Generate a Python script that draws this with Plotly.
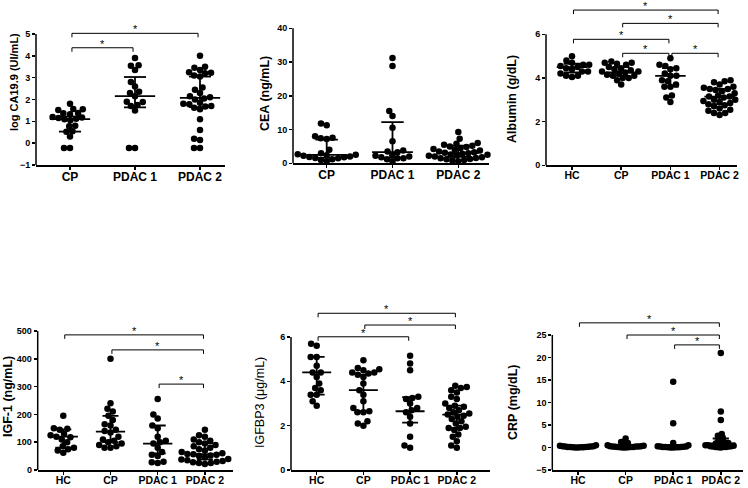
import math
import plotly.graph_objects as go

W, H = 748, 488

# ---------------- data ----------------
groups3 = ["CP", "PDAC 1", "PDAC 2"]
groups4 = ["HC", "CP", "PDAC 1", "PDAC 2"]

# log CA19.9 (UI/mL)
ca199_cp = [1.80, 1.56, 1.55, 1.52, 1.38, 1.37, 1.33, 1.20, 1.17, 1.15, 1.12, 1.10, 1.05, 0.80, 0.78, 0.55, 0.52, 0.30, -0.22, -0.22]
ca199_pdac1 = [3.90, 3.57, 3.55, 3.35, 2.80, 2.60, 2.35, 2.30, 2.15, 1.90, 1.88, 1.75, 1.70, 1.50, -0.22, -0.22]
ca199_pdac2 = [4.00, 3.50, 3.45, 3.35, 3.25, 3.22, 3.20, 3.10, 3.05, 2.55, 2.45, 2.30, 2.15, 2.10, 2.05, 2.00, 1.85,
               1.80, 1.78, 1.70, 1.68, 1.62, 1.55, 1.10, 0.60, 0.20, 0.15, -0.22, -0.22]
ca199_median = [1.10, 2.15, 2.07]
ca199_q1 = [0.53, 1.64, 1.65]
ca199_q3 = [1.22, 3.03, 3.05]
ca199_ticks = [-1, 0, 1, 2, 3, 4, 5]

# CEA (ng/mL)
cea_cp = [11.8, 11.3, 8.0, 7.6, 7.4, 7.2, 4.0, 3.0, 2.7, 2.5, 2.4, 2.2, 2.0, 1.9, 1.8, 1.6, 1.5, 1.2, 1.0, 0.5]
cea_pdac1 = [31.2, 28.8, 15.5, 14.0, 10.5, 6.5, 3.8, 3.5, 3.3, 2.4, 2.2, 2.0, 1.8, 1.5, 1.5, 1.2, 0.5]
cea_pdac2 = [9.3, 7.3, 6.0, 5.8, 5.5, 5.2, 5.0, 4.8, 4.5, 4.2, 4.0, 3.8, 3.5, 3.3, 3.1, 3.0, 2.8, 2.6, 2.5, 2.3,
             2.2, 2.0, 1.8, 1.6, 1.5, 1.3, 1.2, 1.0, 0.8, 0.6]
cea_median = [2.5, 3.3, 3.0]
cea_q1 = [1.6, 1.6, 1.9]
cea_q3 = [7.0, 12.2, 5.2]
cea_ticks = [0, 10, 20, 30, 40]

# Albumin (g/dL)
alb_hc = [5.0, 4.8, 4.7, 4.6, 4.6, 4.55, 4.5, 4.45, 4.4, 4.3, 4.3, 4.2, 4.1, 4.1, 4.05]
alb_cp = [4.75, 4.7, 4.7, 4.65, 4.6, 4.5, 4.45, 4.4, 4.35, 4.3, 4.3, 4.25, 4.2, 4.15, 4.1, 4.1, 4.0, 4.0, 3.9, 3.7]
alb_pdac1 = [4.9, 4.6, 4.55, 4.45, 4.4, 4.2, 4.1, 4.1, 3.9, 3.85, 3.7, 3.6, 3.6, 3.2, 3.1, 2.9]
alb_pdac2 = [3.9, 3.85, 3.8, 3.7, 3.7, 3.6, 3.55, 3.5, 3.5, 3.45, 3.4, 3.3, 3.2, 3.15, 3.15, 3.1, 3.0, 3.0, 2.95,
             2.9, 2.85, 2.8, 2.75, 2.7, 2.6, 2.55, 2.5, 2.4, 2.4, 2.3]
alb_median = [4.5, 4.25, 4.1, 3.15]
alb_q1 = [4.25, 4.1, 3.6, 2.8]
alb_q3 = [4.65, 4.5, 4.45, 3.5]
alb_ticks = [0, 2, 4, 6]

# IGF-1 (ng/mL)
igf_hc = [195, 150, 148, 145, 130, 125, 120, 118, 110, 100, 85, 80, 75, 70, 62]
igf_cp = [400, 240, 220, 210, 195, 180, 165, 160, 145, 140, 135, 120, 110, 105, 100, 95, 90, 85, 80, 80]
igf_pdac1 = [255, 200, 185, 160, 150, 120, 105, 100, 95, 80, 65, 55, 50, 30, 28, 25]
igf_pdac2 = [145, 125, 120, 110, 105, 100, 95, 90, 85, 80, 75, 70, 65, 60, 58, 57, 55, 52, 50, 45, 42, 40, 38, 35,
             32, 30, 28, 25, 25, 22]
igf_median = [120, 138, 95, 57]
igf_q1 = [80, 100, 60, 38]
igf_q3 = [146, 195, 160, 96]
igf_ticks = [0, 100, 200, 300, 400, 500]

# IGFBP3 (ug/mL)
igfbp_hc = [5.7, 5.6, 5.1, 5.1, 4.7, 4.4, 4.4, 4.2, 3.9, 3.7, 3.6, 3.4, 3.4, 3.1, 2.9]
igfbp_cp = [4.95, 4.6, 4.55, 4.5, 4.4, 4.4, 4.35, 4.3, 4.2, 3.9, 3.6, 3.4, 3.1, 2.8, 2.65, 2.6, 2.6, 2.2, 2.1, 2.0]
igfbp_pdac1 = [5.15, 4.8, 4.5, 3.3, 3.25, 3.2, 3.0, 2.8, 2.7, 2.6, 2.4, 2.1, 1.5, 1.1, 1.0]
igfbp_pdac2 = [3.8, 3.75, 3.7, 3.6, 3.5, 3.3, 3.2, 3.0, 2.9, 2.85, 2.8, 2.7, 2.6, 2.55, 2.5, 2.45, 2.4, 2.3, 2.2,
               2.1, 1.95, 1.9, 1.9, 1.8, 1.6, 1.5, 1.3, 1.1, 1.0]
igfbp_median = [4.4, 3.6, 2.65, 2.5]
igfbp_q1 = [3.4, 2.65, 2.14, 1.9]
igfbp_q3 = [5.1, 4.3, 3.29, 2.9]
igfbp_ticks = [0, 2, 4, 6]

# CRP (mg/dL)
crp_hc = [0.5, 0.4, 0.3, 0.3, 0.2, 0.2, 0.15, 0.1, 0.1, 0.1, 0.05, 0.05, 0.05, 0.0, 0.0]
crp_cp = [2.0, 1.2, 1.0, 0.8, 0.7, 0.5, 0.4, 0.3, 0.3, 0.2, 0.2, 0.2, 0.15, 0.1, 0.1, 0.1, 0.05, 0.05, 0.0, 0.0]
crp_pdac1 = [14.6, 5.4, 1.0, 0.5, 0.3, 0.2, 0.2, 0.15, 0.1, 0.1, 0.1, 0.05, 0.05, 0.05, 0.0, 0.0]
crp_pdac2 = [21.0, 8.0, 6.1, 3.0, 2.6, 2.5, 2.2, 2.0, 1.8, 1.5, 1.3, 1.2, 1.0, 1.0, 0.9, 0.8, 0.7, 0.6, 0.5, 0.5,
             0.4, 0.3, 0.3, 0.2, 0.2, 0.1, 0.1, 0.1, 0.05, 0.0]
crp_median = [0.1, 0.2, 0.15, 0.9]
crp_q1 = [0.05, 0.08, 0.05, 0.3]
crp_q3 = [0.2, 0.6, 0.5, 2.0]
crp_ticks = [-5, 0, 5, 10, 15, 20, 25]

# ---------------- layout of panels ----------------
FONT = "Liberation Sans, Arial, sans-serif"

panels = [
    dict(title="log CA19.9 (UI/mL)", tsize=11, tweight="bold", cats=groups3,
         data=[ca199_cp, ca199_pdac1, ca199_pdac2], med=ca199_median, q1=ca199_q1, q3=ca199_q3,
         ticks=ca199_ticks, left=36, right=225, cat0=70, step=65, ybot=165, ytoppx=34,
         ymin=-1, ytop=5, ymax=5.6, tx=14, ty=82, catsize=12, swd=6,
         brackets=[(0, 2, 5.03), (0, 1, 4.37)]),
    dict(title="CEA (ng/mL)", tsize=12.5, tweight="bold", cats=groups3,
         data=[cea_cp, cea_pdac1, cea_pdac2], med=cea_median, q1=cea_q1, q3=cea_q3,
         ticks=cea_ticks, left=293, right=489, cat0=326.7, step=65.8, ybot=163.3, ytoppx=28.3,
         ymin=0, ytop=40, ymax=40, tx=265, ty=94, catsize=12, swd=6,
         brackets=[]),
    dict(title="Albumin (g/dL)", tsize=12.5, tweight="bold", cats=groups4,
         data=[alb_hc, alb_cp, alb_pdac1, alb_pdac2], med=alb_median, q1=alb_q1, q3=alb_q3,
         ticks=alb_ticks, left=546, right=737, cat0=572, step=49.2, ybot=165.3, ytoppx=34.3,
         ymin=0, ytop=6, ymax=7.5, tx=512, ty=99, catsize=10.5, swd=6,
         brackets=[(0, 3, 7.11), (1, 3, 6.50), (0, 2, 5.77), (1, 2, 5.13), (2, 3, 5.13)]),
    dict(title="IGF-1 (ng/mL)", tsize=12.5, tweight="bold", cats=groups4,
         data=[igf_hc, igf_cp, igf_pdac1, igf_pdac2], med=igf_median, q1=igf_q1, q3=igf_q3,
         ticks=igf_ticks, left=37.7, right=233, cat0=63.3, step=47.2, ybot=470, ytoppx=331,
         ymin=0, ytop=500, ymax=530, tx=8, ty=397, catsize=10.5, swd=6,
         brackets=[(0, 3, 486), (1, 3, 432), (2, 3, 309)]),
    dict(title="IGFBP3 (\u03bcg/mL)", tsize=12.5, tweight="normal", cats=groups4,
         data=[igfbp_hc, igfbp_cp, igfbp_pdac1, igfbp_pdac2], med=igfbp_median, q1=igfbp_q1, q3=igfbp_q3,
         ticks=igfbp_ticks, left=291, right=490, cat0=316.7, step=46.7, ybot=470, ytoppx=337,
         ymin=0, ytop=6, ymax=7.5, tx=260, ty=403, catsize=10.5, swd=6,
         brackets=[(0, 3, 7.07), (1, 3, 6.54), (0, 2, 6.01)]),
    dict(title="CRP (mg/dL)", tsize=12.5, tweight="bold", cats=groups4,
         data=[crp_hc, crp_cp, crp_pdac1, crp_pdac2], med=crp_median, q1=crp_q1, q3=crp_q3,
         ticks=crp_ticks, left=552.3, right=743, cat0=578, step=47.6, ybot=470, ytoppx=335,
         ymin=-5, ytop=25, ymax=29.5, tx=513, ty=403, catsize=10.5, swd=2.6,
         brackets=[(0, 3, 27.7), (1, 3, 25.0), (2, 3, 22.8)]),
]


def swarm(values, xppu, yppu, d):
    """Deterministic beeswarm offsets (in category units)."""
    placed = []
    offs = [0.0] * len(values)
    order = sorted(range(len(values)), key=lambda i: values[i])
    for i in order:
        y = values[i] * yppu
        cands = [0.0]
        for px, py in placed:
            dy = y - py
            if abs(dy) < d:
                dx = math.sqrt(d * d - dy * dy)
                cands += [px + dx + 1e-6, px - dx - 1e-6]
        cands.sort(key=lambda c: (abs(c), c))
        chosen = cands[-1]
        for c in cands:
            if all((c - px) ** 2 + (y - py) ** 2 >= d * d - 1e-6 for px, py in placed):
                chosen = c
                break
        placed.append((chosen, y))
        offs[i] = chosen / xppu
    return offs


fig = go.Figure()
layout = dict(width=W, height=H, autosize=False, margin=dict(l=0, r=0, t=0, b=0, pad=0),
              plot_bgcolor="white", paper_bgcolor="white", showlegend=False,
              font=dict(family=FONT, color="black"))
shapes, annotations = [], []

for k, p in enumerate(panels, start=1):
    xa, ya = f"x{k}" if k > 1 else "x", f"y{k}" if k > 1 else "y"
    xname, yname = f"xaxis{k}" if k > 1 else "xaxis", f"yaxis{k}" if k > 1 else "yaxis"
    n = len(p["cats"])
    yppu = (p["ybot"] - p["ytoppx"]) / (p["ytop"] - p["ymin"])
    top_px = p["ybot"] - (p["ymax"] - p["ymin"]) * yppu
    xr = [-(p["cat0"] - p["left"]) / p["step"], (p["right"] - p["cat0"]) / p["step"]]

    layout[xname] = dict(domain=[p["left"] / W, p["right"] / W], range=xr, anchor=ya,
                         showline=True, linecolor="black", linewidth=1.5, mirror=False,
                         ticks="outside", ticklen=3, tickwidth=1.5, tickcolor="black",
                         tickvals=list(range(n)), ticktext=p["cats"], automargin=False,
                         ticklabelstandoff=-3,
                         tickfont=dict(family=FONT, size=p["catsize"], color="black", weight="bold"),
                         showgrid=False, zeroline=False, fixedrange=True)
    layout[yname] = dict(domain=[1 - p["ybot"] / H, 1 - top_px / H], range=[p["ymin"], p["ymax"]],
                         anchor=xa, showline=False, ticks="outside", ticklen=3, tickwidth=1.5,
                         tickcolor="black", tickvals=p["ticks"], automargin=False,
                         tickfont=dict(family=FONT, size=9, color="black", weight="bold"),
                         showgrid=False, zeroline=False, fixedrange=True)
    # y spine from bottom to top tick
    shapes.append(dict(type="line", xref=f"{xa} domain", yref=f"{ya} domain",
                       x0=0, x1=0, y0=0, y1=(p["ytop"] - p["ymin"]) / (p["ymax"] - p["ymin"]),
                       line=dict(color="black", width=1.5)))

    # points
    for gi, vals in enumerate(p["data"]):
        offs = swarm(vals, p["step"], yppu, p["swd"])
        fig.add_trace(go.Scatter(x=[gi + o for o in offs], y=vals, mode="markers", xaxis=xa, yaxis=ya,
                                 marker=dict(size=6.5, color="black", line=dict(width=0)),
                                 cliponaxis=False, hoverinfo="skip"))
    # median + IQR
    lx, ly = [], []
    for gi in range(n):
        m, a, b = p["med"][gi], p["q1"][gi], p["q3"][gi]
        lx += [gi - 0.31, gi + 0.31, None, gi, gi, None, gi - 0.17, gi + 0.17, None, gi - 0.17, gi + 0.17, None]
        ly += [m, m, None, a, b, None, a, a, None, b, b, None]
    fig.add_trace(go.Scatter(x=lx, y=ly, mode="lines", xaxis=xa, yaxis=ya,
                             line=dict(color="black", width=1.8), hoverinfo="skip"))
    # brackets
    tick = 4.0 / yppu
    bx, by = [], []
    for a, b, yb in p["brackets"]:
        a2, b2 = a + 0.03, b - 0.03
        bx += [a2, a2, b2, b2, None]
        by += [yb - tick, yb, yb, yb - tick, None]
        annotations.append(dict(x=(a + b) / 2, y=yb, xref=xa, yref=ya, text="*", showarrow=False,
                                yanchor="bottom", yshift=-4,
                                font=dict(family=FONT, size=11, color="#000000")))
    if bx:
        fig.add_trace(go.Scatter(x=bx, y=by, mode="lines", xaxis=xa, yaxis=ya,
                                 line=dict(color="black", width=1), hoverinfo="skip"))
    # axis title
    annotations.append(dict(x=p["tx"] / W, y=1 - p["ty"] / H, xref="paper", yref="paper",
                            text=p["title"], textangle=-90, showarrow=False,
                            xanchor="center", yanchor="middle",
                            font=dict(family=FONT, size=p["tsize"], color="black", weight=p["tweight"])))

layout["shapes"] = shapes
layout["annotations"] = annotations
fig.update_layout(**layout)
fig.write_html("out.html", config={"displayModeBar": False, "staticPlot": True},
               post_script="document.body.style.margin='0px';document.body.style.padding='0px';")
